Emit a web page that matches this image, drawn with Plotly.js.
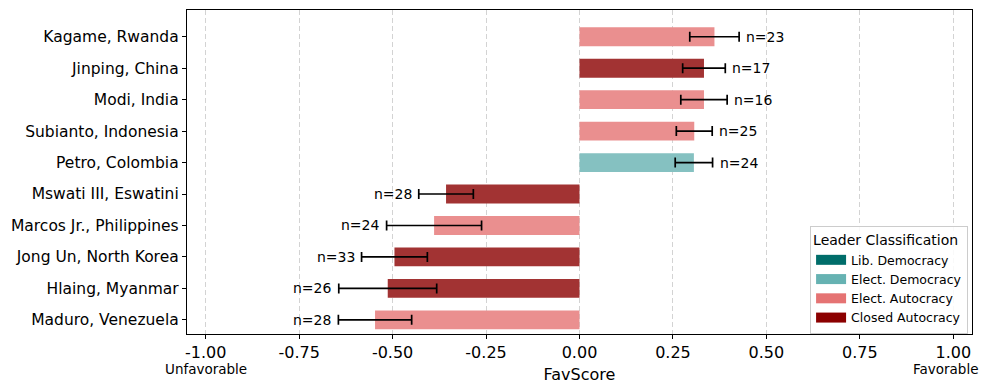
<!DOCTYPE html>
<html>
<head>
<meta charset="utf-8">
<script src="https://cdn.plot.ly/plotly-3.0.1.min.js"></script>
<style>html,body{margin:0;padding:0;background:#fff;}#chart{width:997px;height:391px;}</style>
</head>
<body>
<div id="chart"></div>
<script>
// Data (bottom to top)
const leaders = ["Maduro, Venezuela", "Hlaing, Myanmar", "Jong Un, North Korea", "Marcos Jr., Philippines", "Mswati III, Eswatini", "Petro, Colombia", "Subianto, Indonesia", "Modi, India", "Jinping, China", "Kagame, Rwanda"];
const scores = [-0.547, -0.513, -0.495, -0.389, -0.357, 0.306, 0.307, 0.333, 0.333, 0.361];
const errors = [0.098, 0.131, 0.088, 0.127, 0.073, 0.050, 0.048, 0.062, 0.057, 0.066];
const counts = [28, 26, 33, 24, 28, 24, 25, 16, 17, 23];
const classes = ["Elect. Autocracy", "Closed Autocracy", "Closed Autocracy", "Elect. Autocracy", "Closed Autocracy", "Elect. Democracy", "Elect. Autocracy", "Elect. Autocracy", "Closed Autocracy", "Elect. Autocracy"];
const classNames = ["Lib. Democracy", "Elect. Democracy", "Elect. Autocracy", "Closed Autocracy"];
const classColors = ["#006D6A", "#66B2B2", "#E57373", "#8B0000"];
const barColors = ["#4D9997", "#85C1C1", "#EA8F8F", "#A23333"];
const xTicks = [-1, -0.75, -0.5, -0.25, 0, 0.25, 0.5, 0.75, 1];

const font = "DejaVu Sans, Verdana, sans-serif";
const traces = [];
classNames.forEach((c, ci) => {
  const idx = leaders.map((_, i) => i).filter(i => classes[i] === c);
  if (idx.length) {
    traces.push({
      type: "bar", orientation: "h",
      y: idx.map(i => leaders[i]), x: idx.map(i => scores[i]),
      width: 0.6,
      marker: {color: barColors[ci], line: {width: 0}},
      error_x: {type: "data", array: idx.map(i => errors[i]), color: "black", thickness: 1.7, width: 5},
      showlegend: false, hoverinfo: "x+y"
    });
  }
});
classNames.forEach((c, ci) => {
  traces.push({
    type: "scatter", mode: "lines", name: c,
    x: [null], y: [null],
    line: {color: classColors[ci], width: 10},
    showlegend: true
  });
});

const annotations = leaders.map((l, i) => {
  const pos = scores[i] >= 0;
  return {
    x: scores[i] + (pos ? errors[i] : -errors[i]), y: l, xref: "x", yref: "y",
    text: "n=" + counts[i], showarrow: false,
    xanchor: pos ? "left" : "right", xshift: pos ? 5 : -5,
    font: {family: font, size: 14, color: "black"}
  };
});
annotations.push({x: -1, y: 0, xref: "x", yref: "paper", yanchor: "top", yshift: -25, text: "Unfavorable", showarrow: false, font: {family: font, size: 13.5, color: "black"}});
annotations.push({x: 1, y: 0, xref: "x", yref: "paper", yanchor: "top", yshift: -25, xshift: -7, text: "Favorable", showarrow: false, font: {family: font, size: 13.5, color: "black"}});

const layout = {
  width: 997, height: 391,
  margin: {l: 187, r: 25, t: 10, b: 57},
  paper_bgcolor: "white", plot_bgcolor: "white",
  font: {family: font, size: 14, color: "black"},
  barmode: "overlay",
  xaxis: {
    range: [-1.05, 1.05], tickvals: xTicks, ticktext: xTicks.map(v => v.toFixed(2)),
    showgrid: true, gridcolor: "#d3d3d3", griddash: "5px,3px", gridwidth: 1,
    zeroline: false, showline: true, linecolor: "black", linewidth: 1.2, mirror: true,
    ticks: "outside", ticklen: 4, tickcolor: "black",
    tickfont: {family: font, size: 16},
    title: {text: "FavScore", font: {family: font, size: 16}, standoff: 7}
  },
  yaxis: {
    type: "category", categoryorder: "array", categoryarray: leaders,
    range: [-0.45, 9.85], showgrid: false, zeroline: false,
    showline: true, linecolor: "black", linewidth: 1.2, mirror: true,
    ticks: "outside", ticklen: 4, tickcolor: "black",
    tickfont: {family: font, size: 15.5}
  },
  legend: {
    title: {text: "Leader Classification", font: {family: font, size: 14}},
    x: 0.995, xanchor: "right", y: 0.0, yanchor: "bottom",
    bgcolor: "rgba(255,255,255,0.85)", bordercolor: "#cccccc", borderwidth: 1,
    font: {family: font, size: 12.5}, tracegroupgap: 0, itemwidth: 30
  },
  annotations: annotations
};
Plotly.newPlot("chart", traces, layout, {displayModeBar: false, staticPlot: true});
</script>
</body>
</html>
